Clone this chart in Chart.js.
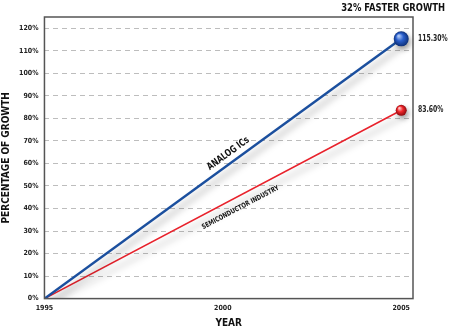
<!DOCTYPE html>
<html>
<head>
<meta charset="utf-8">
<script src="https://cdn.jsdelivr.net/npm/chart.js@4"></script>
<style>
  html, body { margin: 0; padding: 0; background: #fff; }
  #wrap { width: 450px; height: 328px; position: relative; }
</style>
</head>
<body>
<div id="wrap"><canvas id="chart"></canvas></div>
<script>
const years = [1995, 2005];
const yearTicks = [1995, 2000, 2005];
const analogGrowth = [0, 115.3];
const semiGrowth = [0, 83.6];
const endLabels = ["115.30%", "83.60%"];
const lineNames = ["ANALOG ICs", "SEMICONDUCTOR INDUSTRY"];

const FONT = '"Liberation Sans Narrow", "DejaVu Sans Condensed", Arial, sans-serif';
const BLUE = "#1b4f9e";
const RED = "#e8222c";

const toPoints = vals => years.map((y, i) => ({ x: y, y: vals[i] }));

// draw text squeezed horizontally, to get a condensed look
function narrowText(ctx, text, x, y, squeeze) {
    ctx.save();
    ctx.translate(x, y);
    ctx.scale(squeeze, 1);
    ctx.fillText(text, 0, 0);
    ctx.restore();
}

const frame = {
    id: "frame",
    beforeDatasetsDraw(chart) {
        const { ctx } = chart;
        ctx.save();
        ctx.shadowColor = "rgba(0,0,0,0.35)";
        ctx.shadowBlur = 7;
        ctx.shadowOffsetX = 3;
        ctx.shadowOffsetY = 6;
    },
    afterDatasetsDraw(chart) {
        const { ctx, chartArea: a } = chart;
        ctx.restore();

        // border box
        ctx.save();
        ctx.strokeStyle = "#555";
        ctx.lineWidth = 1.5;
        ctx.strokeRect(a.left, a.top, a.right - a.left, a.bottom - a.top);
        ctx.restore();

        const radii = [7.5, 5.5];
        const colors = [["#a9c4f5", "#2a5fcc", "#0c2f78"], ["#ffc0c0", "#f0282c", "#8c0a0e"]];
        chart.data.datasets.forEach((ds, i) => {
            const meta = chart.getDatasetMeta(i);
            const p = meta.data[meta.data.length - 1];
            const r = radii[i];
            ctx.save();
            ctx.shadowColor = "rgba(0,0,0,0.35)";
            ctx.shadowBlur = 5;
            ctx.shadowOffsetX = 2;
            ctx.shadowOffsetY = 3;
            const g = ctx.createRadialGradient(p.x - r * 0.35, p.y - r * 0.4, r * 0.1, p.x, p.y, r);
            g.addColorStop(0, colors[i][0]);
            g.addColorStop(0.45, colors[i][1]);
            g.addColorStop(1, colors[i][2]);
            ctx.fillStyle = g;
            ctx.beginPath();
            ctx.arc(p.x, p.y, r, 0, Math.PI * 2);
            ctx.fill();
            ctx.restore();

            // value label on the right
            ctx.save();
            ctx.fillStyle = "#222";
            ctx.font = "bold 8px " + FONT;
            ctx.textAlign = "left";
            ctx.textBaseline = "middle";
            narrowText(ctx, endLabels[i], a.right + 5, p.y, 0.85);
            ctx.restore();

            // line name along the line
            const p0 = meta.data[0];
            const ang = Math.atan2(p.y - p0.y, p.x - p0.x);
            const frac = i === 0 ? 0.53 : 0.535;
            const cx = p0.x + (p.x - p0.x) * frac;
            const cy = p0.y + (p.y - p0.y) * frac;
            const off = i === 0 ? -9 : 11;
            ctx.save();
            ctx.translate(cx, cy);
            ctx.rotate(ang);
            ctx.fillStyle = "#111";
            ctx.font = (i === 0 ? "bold 10px " : "bold 7px ") + FONT;
            ctx.textAlign = "center";
            ctx.textBaseline = "middle";
            narrowText(ctx, lineNames[i], 0, off, i === 0 ? 0.82 : 0.86);
            ctx.restore();
        });

        // headline
        ctx.save();
        ctx.fillStyle = "#111";
        ctx.font = "bold 11px " + FONT;
        ctx.textAlign = "right";
        ctx.textBaseline = "middle";
        narrowText(ctx, "32% FASTER GROWTH", chart.width - 5, 8, 0.85);
        ctx.restore();
    }
};

new Chart(document.getElementById("chart"), {
    type: "line",
    data: {
        datasets: [
            {
                label: "Analog ICs",
                data: toPoints(analogGrowth),
                borderColor: BLUE,
                borderWidth: 2.5,
                pointRadius: 0,
                fill: false
            },
            {
                label: "Semiconductor Industry",
                data: toPoints(semiGrowth),
                borderColor: RED,
                borderWidth: 1.6,
                pointRadius: 0,
                fill: false
            }
        ]
    },
    options: {
        responsive: true,
        maintainAspectRatio: false,
        animation: false,
        layout: { padding: { top: 17, right: 37, left: 0, bottom: -1 } },
        plugins: {
            legend: { display: false },
            tooltip: { enabled: false }
        },
        scales: {
            x: {
                type: "linear",
                min: 1995,
                max: 2005.33,
                afterBuildTicks: scale => {
                    scale.ticks = yearTicks.map(v => ({ value: v }));
                },
                grid: { display: false, drawTicks: false },
                border: { display: false },
                ticks: {
                    color: "#222",
                    font: { family: FONT, size: 7, weight: "bold" },
                    padding: 5,
                    maxRotation: 0,
                    callback: v => String(v)
                },
                title: {
                    display: true,
                    text: "YEAR",
                    color: "#111",
                    font: { family: FONT, size: 10, weight: "bold" },
                    padding: { top: 0, bottom: 0 }
                }
            },
            y: {
                min: 0,
                max: 125,
                afterBuildTicks: scale => {
                    const t = [];
                    for (let v = 0; v <= 120; v += 10) t.push({ value: v });
                    scale.ticks = t;
                },
                grid: {
                    color: "#bdbdbd",
                    lineWidth: 1,
                    drawTicks: false
                },
                border: { display: false, dash: [5, 4] },
                ticks: {
                    color: "#222",
                    font: { family: FONT, size: 7, weight: "bold" },
                    padding: 6,
                    callback: v => v + "%"
                },
                title: {
                    display: true,
                    text: "PERCENTAGE OF GROWTH",
                    color: "#111",
                    font: { family: FONT, size: 10, weight: "bold" },
                    padding: { top: 0, bottom: 1 }
                }
            }
        }
    },
    plugins: [frame]
});
</script>
</body>
</html>
